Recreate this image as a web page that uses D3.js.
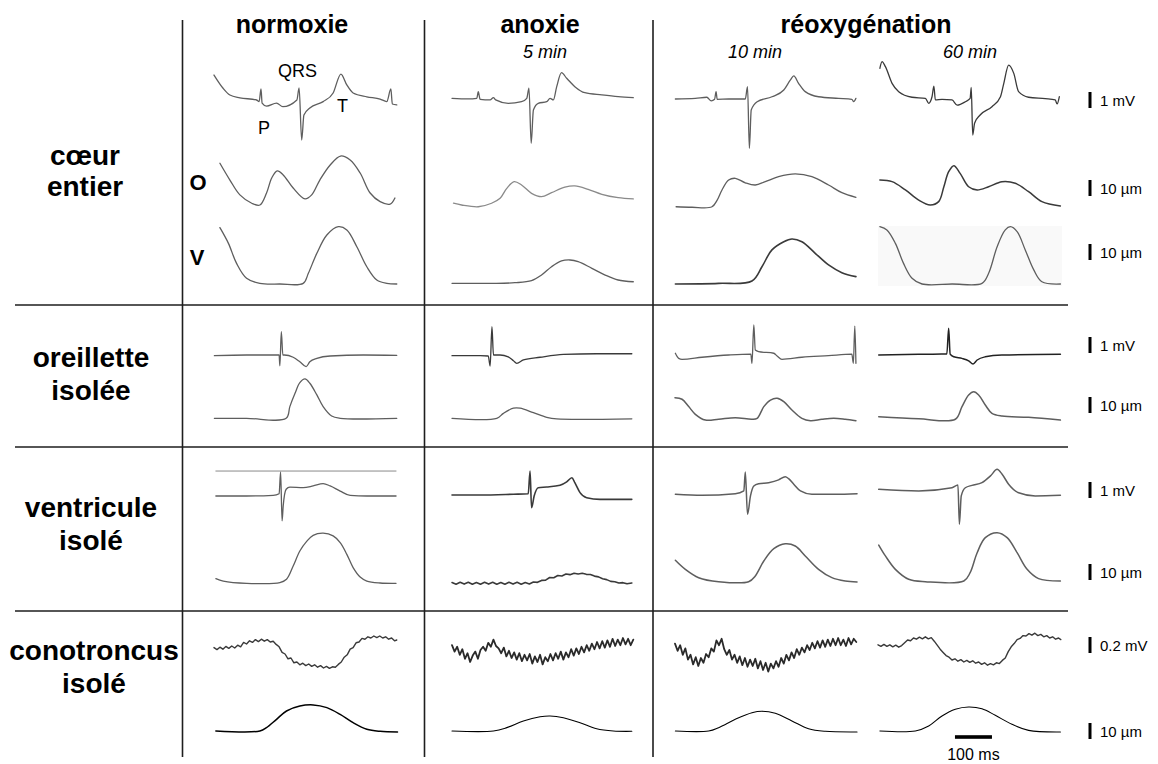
<!DOCTYPE html>
<html><head><meta charset="utf-8">
<script src="https://cdn.jsdelivr.net/npm/d3@7"></script>
<style>body{margin:0;background:#fff}svg{display:block}</style>
</head><body>
<svg id="c" width="1158" height="764"></svg>
<script>
// ---------- labels ----------
const columnTitles = ["normoxie", "anoxie", "réoxygénation"];
const timeLabels = ["5 min", "10 min", "60 min"];
const rowLabels = [["cœur", "entier"], ["oreillette", "isolée"], ["ventricule", "isolé"], ["conotroncus", "isolé"]];
const waveLabels = ["P", "QRS", "T"];
const traceLetters = ["O", "V"];
const scaleLabels = ["1 mV", "10 µm", "10 µm", "1 mV", "10 µm", "1 mV", "10 µm", "0.2 mV", "10 µm"];
const scaleUnits = ["mV", "um", "um", "mV", "um", "mV", "um", "uV", "um"];
const scaleValues = [1, 10, 10, 1, 10, 1, 10, 200, 10];
const timeBarLabel = "100 ms";
const timeBarValue = 100;

// ---------- traces: [time ms, value] ----------
// cœur entier
const coeurEcgNormoxie = [[0,1.56],[24,0.75],[43,0.31],[70,0.14],[115,0],[122,-0.1],[127,0.69],[130,-0.19],[142,-0.38],[169,-0.19],[186,-0.42],[224,0],[230,0.75],[237,-2.5],[243,-0.94],[259,-0.5],[295,-0.1],[322,0.44],[343,1.62],[359,0.94],[376,0.44],[413,0.2],[449,0.06],[467,-0.1],[478,0.69],[482,-0.25],[494,-0.31]];
const coeurONormoxie = [[16,26.1],[43,15.6],[70,6.3],[102,1.1],[124,0],[142,7.5],[156,16.9],[171,21.3],[187,18.8],[214,10.6],[246,3.8],[264,6.3],[286,15.6],[314,25],[342,30.6],[368,28.1],[395,20],[422,7.5],[449,2.1],[476,0.6],[489,4.4]];
const coeurVNormoxie = [[16,35.2],[39,25.4],[61,12.9],[88,3.6],[124,0.4],[178,0],[241,0.4],[255,6.7],[278,19.2],[305,30.6],[336,35.8],[359,33.8],[386,23.3],[413,10.8],[440,2.5],[467,0.4],[494,0]];
const coeurEcgAnoxie = [[0,-0.02],[44,-0.06],[67,-0.02],[71,0.39],[76,-0.08],[103,-0.12],[112,0.02],[118,-0.12],[152,-0.33],[188,-0.23],[202,-0.02],[208,0.61],[214,-2.83],[220,-0.75],[233,-0.33],[256,-0.23],[265,-0.02],[274,-0.12],[283,0.71],[296,1.58],[310,1.23],[332,0.71],[359,0.33],[405,0.19],[449,0.08],[490,0.02]];
const coeurOAnoxie = [[4,1.1],[26,0],[71,-1.1],[107,1.1],[130,4.2],[148,10.4],[168,14.6],[188,12.5],[215,7.3],[242,5.2],[269,7.7],[305,11.1],[332,11.9],[368,9.8],[405,6.7],[449,4.6],[490,3.8]];
const coeurVAnoxie = [[0,0.4],[107,0.4],[170,0.8],[215,2.1],[242,5.6],[269,10.8],[296,14.4],[319,15],[341,14],[378,9.8],[414,5.6],[449,2.5],[490,1.4]];
const coeurEcgReox10 = [[1,0],[55,0.04],[86,0.11],[98,-0.12],[107,-0.02],[111,0.46],[114,-0.02],[145,0],[190,0],[196,0.77],[201,-3.08],[206,-0.69],[222,-0.17],[262,0.14],[294,0.56],[312,1.19],[321,1.44],[334,0.98],[352,0.46],[388,0.14],[442,0.04],[478,-0.02],[483,-0.17],[489,0.04]];
const coeurOReox10 = [[3,-1.1],[46,-1.4],[100,-1.1],[114,3.1],[127,9.4],[145,15.6],[163,16.7],[190,13.9],[217,12.5],[244,14.6],[280,17.7],[325,19.4],[370,17.7],[415,12.5],[451,7.7],[489,4.8]];
const coeurVReox10 = [[1,0],[118,0.4],[208,1.9],[235,10.8],[262,21.3],[294,26.4],[316,28.1],[343,26.4],[379,19.2],[415,11.9],[451,7.1],[489,4.6]];
const coeurEcgReox60 = [[5,1.92],[11,2.33],[20,2.02],[38,0.98],[56,0.46],[92,0.11],[128,0.04],[137,-0.27],[146,0.14],[151,0.81],[155,-0.06],[173,-0.02],[200,-0.06],[214,-0.38],[236,-0.17],[249,0.04],[252,0.73],[256,-2.25],[261,-1.52],[276,-1.0],[308,-0.48],[331,0.14],[340,0.98],[353,2.12],[367,1.6],[380,0.46],[407,0.11],[452,0.02],[479,-0.06],[484,-0.31],[490,0.14]];
const coeurOReox60 = [[5,15.6],[38,14.6],[74,9.4],[110,3.1],[141,0],[164,2.1],[178,11.4],[191,20.8],[205,24.6],[222,19.8],[245,11.4],[268,9.4],[299,11.4],[335,14.6],[371,13.6],[407,8.3],[443,2.1],[493,-0.6]];
const coeurVReox60 = [[5,35.8],[24,33.8],[47,25.4],[69,12.9],[92,3.6],[119,0],[200,0],[281,0.4],[299,6.7],[322,23.3],[344,33.8],[358,35.8],[376,32.7],[398,21.3],[421,8.8],[443,1.4],[493,0]];
// oreillette isolée
const oreilEcgNormoxie = [[1,-0.01],[88,0.03],[176,0.03],[178,-0.64],[182,1.49],[186,0.03],[190,0.03],[214,-0.11],[232,-0.39],[249,-0.69],[259,-0.39],[278,-0.18],[314,-0.03],[404,0.03],[494,0.01]];
const oreilContrNormoxie = [[1,0],[88,0],[195,0],[205,7.3],[219,15.6],[232,22.3],[246,24.6],[259,21.9],[278,14.6],[295,7.3],[318,1.4],[341,0],[494,0]];
const oreilEcgAnoxie = [[0,-0.01],[76,-0.01],[98,-0.03],[103,-0.66],[108,1.8],[112,0.03],[130,0.03],[152,-0.08],[166,-0.33],[175,-0.49],[193,-0.28],[238,-0.11],[301,0.07],[391,0.11],[486,0.11]];
const oreilContrAnoxie = [[0,0],[121,0],[139,3.1],[166,6.3],[184,6.3],[220,3.5],[256,0.6],[283,-0.4],[486,-0.3]];
const oreilEcgReox10 = [[1,0.14],[10,-0.18],[19,-0.24],[73,-0.11],[145,0.03],[205,0.09],[208,-0.49],[213,1.91],[217,0.34],[226,0.24],[267,0.14],[276,-0.03],[289,-0.24],[343,-0.11],[415,-0.01],[478,0.08],[482,-0.49],[486,1.84],[489,-0.49]];
const oreilContrReox10 = [[0,12.9],[19,11.9],[37,7.3],[55,2.5],[82,-1.1],[118,-0.6],[163,0.4],[208,-0.6],[222,0],[240,7.3],[258,11.4],[276,12.5],[294,10.4],[316,5.2],[343,0],[366,-1.5],[397,-0.6],[429,0],[460,-0.6],[489,-1.5]];
const oreilEcgReox60 = [[2,0.03],[110,0.08],[186,0.09],[191,1.7],[195,0.09],[205,-0.08],[227,-0.18],[245,-0.33],[257,-0.53],[268,-0.28],[290,-0.08],[335,0.03],[493,0.08]];
const oreilContrReox60 = [[2,1.0],[110,-0.3],[209,-0.6],[227,7.3],[245,14.6],[259,16.6],[272,14.6],[290,8.3],[308,3.1],[335,1.4],[407,0.6],[493,-1.1]];
// ventricule isolé
const ventEcgNormoxie = [[5,0],[88,0],[160,0.04],[176,0.14],[180,1.5],[184,-1.56],[187,-0.63],[195,0.42],[205,0.56],[241,0.52],[268,0.63],[295,0.77],[314,0.63],[341,0.31],[368,0.04],[413,0],[492,0]];
const ventRefNormoxie = [[5,1.56],[492,1.56]];
const ventContrNormoxie = [[5,2.9],[25,1.4],[88,0],[178,0.4],[196,2.5],[214,10.8],[232,20.2],[251,26.4],[268,30],[295,31.3],[322,29.6],[341,25.4],[359,18.1],[376,9.8],[395,3.9],[413,1.4],[449,0.2],[492,0]];
const ventEcgAnoxie = [[0,0.06],[76,0.06],[166,0.11],[206,0.14],[211,1.56],[215,-0.73],[222,0],[233,0.52],[256,0.56],[292,0.67],[310,0.88],[324,1.14],[332,0.83],[346,0.21],[364,-0.11],[400,-0.21],[486,-0.21]];
const ventContrAnoxie = [[0,0.5],[11,-0.6],[22,0.6],[33,-0.5],[44,0.6],[55,-0.6],[66,0.5],[77,-0.6],[88,0.6],[99,-0.5],[110,0.6],[121,-0.6],[132,0.5],[143,-0.6],[154,0.6],[165,-0.5],[176,0.6],[187,-0.6],[198,0.5],[209,-0.4],[220,0.8],[231,0.6],[242,1.8],[253,2.0],[264,3.6],[275,3.5],[286,4.9],[297,4.6],[308,5.8],[319,5.4],[330,6.3],[341,5.8],[352,6.3],[363,5.6],[374,5.5],[385,4.5],[396,4.0],[407,2.8],[418,2.3],[429,1.2],[440,1.0],[451,0.2],[462,0.4],[473,-0.3],[486,0.2]];
const ventEcgReox10 = [[1,-0.02],[73,-0.08],[163,0.02],[186,0.19],[190,1.38],[196,-1.27],[204,-0.12],[213,0.5],[226,0.64],[253,0.71],[280,0.88],[298,1.08],[307,0.96],[321,0.61],[339,0.19],[370,-0.02],[433,-0.02],[492,0.02]];
const ventContrReox10 = [[1,13.6],[28,7.9],[64,2.7],[118,0.2],[199,0.2],[217,3.8],[240,13.1],[267,20.8],[298,23.9],[325,22.5],[352,16.3],[388,7.9],[424,2.7],[460,0.6],[492,0]];
const ventEcgReox60 = [[2,0.29],[110,0.19],[200,0.39],[216,0.56],[220,-1.89],[225,-0.12],[236,0.39],[254,0.54],[281,0.71],[304,1.13],[322,1.54],[335,1.25],[353,0.61],[380,0.08],[425,-0.12],[493,-0.08]];
const ventContrReox60 = [[2,23.1],[20,16.3],[47,7.9],[83,1.7],[128,0.2],[232,0.6],[249,5.8],[268,18.3],[290,27.7],[322,30.8],[349,27.7],[376,18.3],[403,7.9],[434,2.1],[493,0.6]];
// conotroncus isolé (electrical in µV)
const conoEcgNormoxie = [[0,30],[8,5],[16,35],[24,10],[32,45],[40,20],[48,50],[56,25],[64,60],[72,40],[80,95],[88,75],[96,115],[104,95],[112,130],[120,105],[128,135],[136,110],[144,130],[152,100],[160,110],[168,70],[176,40],[184,-30],[192,-50],[200,-110],[208,-100],[216,-160],[224,-150],[232,-185],[240,-165],[248,-195],[256,-175],[264,-205],[272,-185],[280,-215],[288,-195],[296,-225],[304,-205],[312,-230],[320,-210],[328,-215],[336,-180],[344,-150],[352,-90],[360,-60],[368,10],[376,30],[384,90],[392,100],[400,145],[408,135],[416,165],[424,150],[432,175],[440,155],[448,175],[456,150],[464,165],[472,135],[480,150],[488,115],[494,125]];
const conoContrNormoxie = [[5,0],[124,0],[142,2.1],[169,7.3],[196,12.5],[232,15.6],[268,16.3],[305,14.6],[341,10.4],[376,5.2],[413,1.1],[449,-0.2],[496,-0.6]];
const conoEcgAnoxie = [[0,60],[7,-20],[14,40],[21,-60],[28,10],[35,-110],[42,-40],[49,-150],[56,-70],[63,-20],[70,-110],[77,0],[84,40],[91,-10],[98,90],[105,40],[112,130],[119,50],[126,20],[133,-40],[140,30],[147,-80],[154,-10],[161,-100],[168,-30],[175,-120],[182,-40],[189,-140],[196,-60],[203,-130],[210,-50],[217,-170],[224,-80],[231,-150],[238,-60],[245,-180],[252,-90],[259,-140],[266,-50],[273,-130],[280,-40],[287,-110],[294,-20],[301,-120],[308,-30],[315,-90],[322,10],[329,-70],[336,20],[343,-50],[350,40],[357,-30],[364,60],[371,-10],[378,80],[385,10],[392,100],[399,20],[406,110],[413,30],[420,120],[427,40],[434,140],[441,50],[448,130],[455,60],[462,150],[469,70],[476,140],[483,60],[490,130]];
const conoContrAnoxie = [[0,0],[112,0],[148,2.1],[193,6.3],[238,8.9],[265,9.4],[301,8.3],[346,5.2],[391,1.4],[436,0],[486,-0.2]];
const conoEcgReox10 = [[0,80],[7,-10],[14,60],[21,-60],[28,20],[35,-120],[42,-60],[49,-180],[56,-90],[63,-200],[70,-100],[77,-160],[84,-50],[91,-90],[98,20],[105,-20],[112,120],[119,60],[126,140],[133,10],[140,-60],[147,0],[154,-120],[161,-60],[168,-160],[175,-80],[182,-190],[189,-100],[196,-210],[203,-120],[210,-200],[217,-110],[224,-230],[231,-140],[238,-250],[245,-160],[252,-270],[259,-170],[266,-230],[273,-140],[280,-210],[287,-100],[294,-170],[301,-60],[308,-130],[315,-30],[322,-100],[329,10],[336,-60],[343,30],[350,-30],[357,60],[364,0],[371,90],[378,20],[385,110],[392,30],[399,120],[406,40],[413,130],[420,50],[427,140],[434,60],[441,150],[448,60],[455,130],[462,50],[469,150],[476,70],[483,140],[490,100]];
const conoContrReox10 = [[1,0],[91,0],[118,2.1],[163,7.3],[208,11.4],[235,12.3],[271,11.1],[316,6.3],[361,1.4],[406,-0.2],[492,-0.6]];
const conoEcgReox60 = [[0,65],[8,45],[16,70],[24,45],[32,65],[40,40],[48,60],[56,35],[64,55],[72,90],[80,125],[88,115],[96,150],[104,135],[112,160],[120,140],[128,165],[136,140],[144,155],[152,110],[160,60],[168,10],[176,-30],[184,-70],[192,-90],[200,-125],[208,-110],[216,-140],[224,-120],[232,-150],[240,-130],[248,-155],[256,-135],[264,-165],[272,-150],[280,-180],[288,-160],[296,-190],[304,-170],[312,-185],[320,-160],[328,-170],[336,-130],[344,-100],[352,-20],[360,40],[368,80],[376,130],[384,145],[392,180],[400,175],[408,205],[416,185],[424,210],[432,180],[440,195],[448,165],[456,180],[464,150],[472,165],[480,135],[488,150],[494,130]];
const conoContrReox60 = [[5,0],[101,0],[137,3.1],[173,9.4],[209,13.6],[245,15],[281,13.9],[317,9.8],[362,4.2],[407,0.4],[493,-0.6]];

// ---------- layout ----------
const svg = d3.select("#c");
const FONT = "'Liberation Sans', Arial, Helvetica, sans-serif";
const panelX = [214, 452, 675, 878];
const x = d3.scaleLinear().domain([0, 500]).range([0, 185]);
const yScales = {
  mV: d3.scaleLinear().domain([0, 1]).range([0, -16]),
  um: d3.scaleLinear().domain([0, 10]).range([0, -16]),
  uV: d3.scaleLinear().domain([0, 200]).range([0, -16])
};

// faint background behind the 60 min ventricle trace
svg.append("rect").attr("x", panelX[3] + x(0)).attr("y", 226).attr("width", x(497)).attr("height", 60).attr("fill", "#f9f9f9");

// grid lines
const grid = svg.append("g").attr("stroke", "#1e1e1e").attr("stroke-width", 1.6);
[182.5, 424.5, 653].forEach(v => grid.append("line").attr("x1", v).attr("x2", v).attr("y1", 20).attr("y2", 757));
[305, 447, 611].forEach(v => grid.append("line").attr("x1", 15).attr("x2", 1068).attr("y1", v).attr("y2", v));

// traces
const G1 = "#5e5e5e", G2 = "#3a3a3a";
const traces = [
  {d: coeurEcgNormoxie, c: 0, u: "mV", y: 100, s: G1},
  {d: coeurONormoxie, c: 0, u: "um", y: 205, s: G1},
  {d: coeurVNormoxie, c: 0, u: "um", y: 284, s: G1},
  {d: coeurEcgAnoxie, c: 1, u: "mV", y: 98, s: G1},
  {d: coeurOAnoxie, c: 1, u: "um", y: 205, s: "#8a8a8a"},
  {d: coeurVAnoxie, c: 1, u: "um", y: 284, s: G1},
  {d: coeurEcgReox10, c: 2, u: "mV", y: 99, s: G1},
  {d: coeurOReox10, c: 2, u: "um", y: 205, s: G1},
  {d: coeurVReox10, c: 2, u: "um", y: 284, s: G2, w: 1.6},
  {d: coeurEcgReox60, c: 3, u: "mV", y: 99, s: G2},
  {d: coeurOReox60, c: 3, u: "um", y: 205, s: G2, w: 1.5},
  {d: coeurVReox60, c: 3, u: "um", y: 284, s: G1},
  {d: oreilEcgNormoxie, c: 0, u: "mV", y: 355.5, s: G1},
  {d: oreilContrNormoxie, c: 0, u: "um", y: 418.3, s: G1},
  {d: oreilEcgAnoxie, c: 1, u: "mV", y: 355.5, s: G2},
  {d: oreilContrAnoxie, c: 1, u: "um", y: 418.3, s: G1},
  {d: oreilEcgReox10, c: 2, u: "mV", y: 355.5, s: G1},
  {d: oreilContrReox10, c: 2, u: "um", y: 418.3, s: G1, w: 1.5},
  {d: oreilEcgReox60, c: 3, u: "mV", y: 355.5, s: "#222", w: 1.5},
  {d: oreilContrReox60, c: 3, u: "um", y: 418.3, s: G1, w: 1.5},
  {d: ventRefNormoxie, c: 0, u: "mV", y: 496, s: "#8a8a8a", w: 1, lin: true},
  {d: ventEcgNormoxie, c: 0, u: "mV", y: 496, s: G1},
  {d: ventContrNormoxie, c: 0, u: "um", y: 583.3, s: G1},
  {d: ventEcgAnoxie, c: 1, u: "mV", y: 496, s: G2, w: 1.6},
  {d: ventContrAnoxie, c: 1, u: "um", y: 583.3, s: G2, w: 1.6, lin: true},
  {d: ventEcgReox10, c: 2, u: "mV", y: 494, s: G1, w: 1.5},
  {d: ventContrReox10, c: 2, u: "um", y: 582, s: G1, w: 1.5},
  {d: ventEcgReox60, c: 3, u: "mV", y: 494, s: G1, w: 1.5},
  {d: ventContrReox60, c: 3, u: "um", y: 582, s: G1, w: 1.5},
  {d: conoEcgNormoxie, c: 0, u: "uV", y: 650, s: G2, w: 1.4, lin: true},
  {d: conoContrNormoxie, c: 0, u: "um", y: 731, s: "#000", w: 1.5},
  {d: conoEcgAnoxie, c: 1, u: "uV", y: 650, s: "#2a2a2a", w: 1.8, lin: true},
  {d: conoContrAnoxie, c: 1, u: "um", y: 731, s: "#000", w: 1.1},
  {d: conoEcgReox10, c: 2, u: "uV", y: 650, s: "#2a2a2a", w: 1.8, lin: true},
  {d: conoContrReox10, c: 2, u: "um", y: 731, s: "#000", w: 1.1},
  {d: conoEcgReox60, c: 3, u: "uV", y: 650, s: G2, w: 1.4, lin: true},
  {d: conoContrReox60, c: 3, u: "um", y: 731, s: "#000", w: 1.1}
];
traces.forEach(tr => {
  const ys = yScales[tr.u];
  const curve = tr.lin ? d3.curveLinear : (tr.u === "um" ? d3.curveCatmullRom.alpha(0.5) : d3.curveMonotoneX);
  const line = d3.line().x(d => x(d[0])).y(d => ys(d[1])).curve(curve);
  svg.append("g").attr("transform", `translate(${panelX[tr.c]},${tr.y})`)
    .append("path").attr("d", line(tr.d)).attr("fill", "none")
    .attr("stroke", tr.s).attr("stroke-width", tr.w || 1.3)
    .attr("stroke-linejoin", "round").attr("stroke-linecap", "round");
});

// text helper
function txt(t, px, py, o) {
  o = o || {};
  return svg.append("text").attr("x", px).attr("y", py).text(t)
    .attr("font-family", FONT).attr("font-size", o.size || 15)
    .attr("font-weight", o.bold ? "bold" : "normal")
    .attr("font-style", o.italic ? "italic" : "normal")
    .attr("text-anchor", o.anchor || "middle").attr("fill", "#000");
}

// column titles
[292, 540, 866].forEach((cx, i) => txt(columnTitles[i], cx, 33, {size: 25, bold: true}));
[545, 755, 970].forEach((cx, i) => txt(timeLabels[i], cx, 58, {size: 18, italic: true}));

// row labels
const rowY = [[165, 196], [367, 400], [517, 550], [660, 693]];
const rowX = [85, 91, 91, 94];
rowLabels.forEach((lab, i) => lab.forEach((l, j) => txt(l, rowX[i], rowY[i][j], {size: 28, bold: true})));

// wave labels
[[264, 134], [297.5, 77], [342.5, 112]].forEach((p, i) => txt(waveLabels[i], p[0], p[1], {size: 18}));
[[198, 190], [197, 265]].forEach((p, i) => txt(traceLetters[i], p[0], p[1], {size: 22, bold: true}));

// amplitude scale bars
const scaleY = [100, 188, 252, 345, 405, 490, 572, 645, 731];
scaleY.forEach((cy, i) => {
  const ys = yScales[scaleUnits[i]];
  const h = Math.abs(ys(scaleValues[i]) - ys(0));
  svg.append("rect").attr("x", 1088.5).attr("y", cy - h / 2).attr("width", 3).attr("height", h).attr("fill", "#000");
  txt(scaleLabels[i], 1100, cy + 5.5, {size: 15, anchor: "start"});
});

// time scale bar
const tb = svg.append("g").attr("transform", `translate(${panelX[3]},737)`);
tb.append("rect").attr("x", x(208)).attr("y", -1.8).attr("width", x(208 + timeBarValue) - x(208)).attr("height", 3.6).attr("fill", "#000");
txt(timeBarLabel, panelX[3] + x(258), 760, {size: 16});
</script>
</body></html>
